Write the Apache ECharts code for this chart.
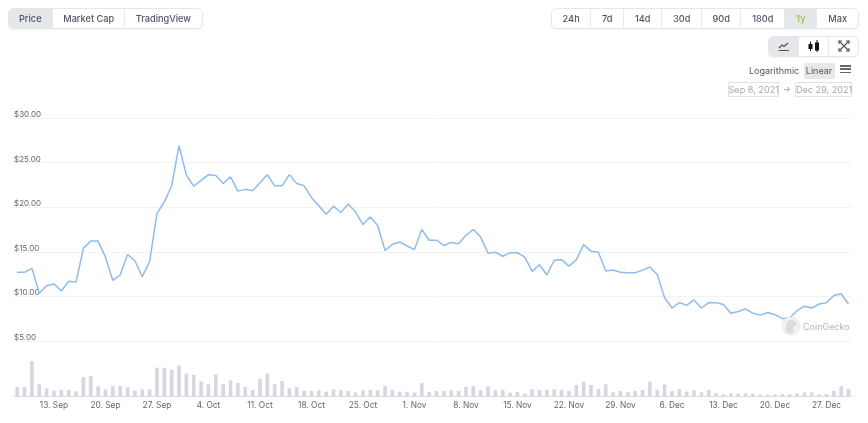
<!DOCTYPE html>
<html><head><meta charset="utf-8">
<script src="https://cdn.jsdelivr.net/npm/echarts@6/dist/echarts.min.js"></script>
<style>
html,body{margin:0;padding:0;background:#fff;width:868px;height:423px;overflow:hidden;font-family:Inter,"Noto Sans",sans-serif}
#chart{position:absolute;left:0;top:0;width:868px;height:423px}
.grp{position:absolute;display:flex;box-sizing:border-box;border:1px solid #e5e7eb;border-radius:5px;overflow:hidden;background:#fff;height:21px;box-shadow:0 1px 1px rgba(0,0,0,.04)}
.grp div{box-sizing:border-box;border-right:1px solid #e8e9ec;text-align:center;font-size:9.2px;line-height:19px;color:#4b5563;font-weight:500}
.grp div:last-child{border-right:none}
.on{background:#e5e7eb}
.abs{position:absolute}
.date{position:absolute;box-sizing:border-box;border:1px solid #e2e2e2;height:15px;font-size:9.1px;line-height:13px;color:#a8a8a8;text-align:center;white-space:nowrap}
.ham{position:absolute;left:839.5px;width:11.5px;height:1.5px;background:#666}
</style></head><body>
<div id="chart"></div>
<div class="grp" style="left:7.5px;top:8px;width:195px">
<div class="on" style="width:45px">Price</div><div style="width:73px">Market Cap</div><div style="width:77px">TradingView</div></div>
<div class="grp" style="left:551px;top:8px;width:308px">
<div style="width:39.5px">24h</div><div style="width:33px">7d</div><div style="width:38.5px">14d</div><div style="width:40px">30d</div><div style="width:39.5px">90d</div><div style="width:44.5px">180d</div><div class="on" style="width:32px;color:#8dc63f">1y</div><div style="width:41px">Max</div></div>
<div class="grp" style="left:767.5px;top:35.5px;width:91.5px">
<div class="on" style="width:31.5px;position:relative"><svg width="14" height="12" style="position:absolute;left:8.5px;top:3px"><path d="M2 8 L5 5 L7 6.5 L11 3" stroke="#4b5563" stroke-width="1.3" fill="none"/><path d="M1.5 10.5 H12" stroke="#4b5563" stroke-width="1.2"/></svg></div>
<div style="width:30px;position:relative"><svg width="14" height="14" style="position:absolute;left:8px;top:2px"><path d="M3.5 2.5 V12 M10 1 V13" stroke="#111" stroke-width="1"/><rect x="1.5" y="5" width="4" height="5" fill="#111"/><rect x="8" y="3.5" width="4" height="8" fill="#111"/></svg></div>
<div style="width:30px;position:relative"><svg width="12" height="12" style="position:absolute;left:9px;top:3.5px"><path d="M1 1 L11 11 M11 1 L1 11" stroke="#4b5563" stroke-width="1.1"/><path d="M1 4 V1 H4 M8 1 H11 V4 M11 8 V11 H8 M4 11 H1 V8" stroke="#4b5563" stroke-width="1.1" fill="none"/></svg></div></div>
<div class="abs" style="left:749px;top:64px;font-size:9px;line-height:14px;color:#4b5563">Logarithmic</div>
<div class="abs" style="left:803.5px;top:62.5px;width:31px;height:16px;background:#e8e8e8;border-radius:2px;font-size:9px;line-height:16px;text-align:center;color:#4b5563">Linear</div>
<div class="ham" style="top:65px"></div><div class="ham" style="top:68.3px"></div><div class="ham" style="top:71.6px"></div>
<div class="date" style="left:727.5px;top:82px;width:51.5px">Sep 8, 2021</div>
<div class="abs" style="left:783px;top:82px;font-size:8px;line-height:15px;color:#999">→</div>
<div class="date" style="left:795px;top:82px;width:57px">Dec 29, 2021</div>
<svg class="abs" width="20" height="20" style="left:781px;top:316px"><circle cx="10" cy="10" r="9" fill="#f1f1f1" stroke="#e9e9e9"/><path d="M5 16 C4 8 6 4 10 4 C13 4 15 6 16 8 C15 10 13 10 12 10 C12 13 13 15 12 17 C9 18 7 18 5 16Z" fill="#dcdcdc"/></svg>
<div class="abs" style="left:803px;top:318.5px;font-size:9px;line-height:15px;color:#b4b4b4">CoinGecko</div>
<script>
const startDate = [2021, 8, 8];
const priceValues = [12.7,12.7,13.15,10.35,11.2,11.4,10.6,11.7,11.6,15.4,16.2,16.2,14.4,11.8,12.4,14.7,14.0,12.2,13.9,19.3,20.6,22.4,26.9,23.6,22.35,23.0,23.65,23.55,22.65,23.4,21.8,22.0,21.85,22.75,23.65,22.4,22.4,23.65,22.65,22.4,21.1,20.15,19.2,20.1,19.4,20.35,19.45,18.05,18.9,17.95,15.15,15.85,16.1,15.65,15.25,17.5,16.3,16.3,15.7,16.05,15.9,16.85,17.5,16.65,14.85,14.95,14.5,14.9,14.9,14.4,12.8,13.55,12.4,14.05,14.1,13.4,14.1,15.8,15.05,14.95,12.85,12.95,12.7,12.65,12.65,12.95,13.3,12.45,9.85,8.7,9.3,9.0,9.6,8.7,9.3,9.3,9.1,8.1,8.3,8.6,8.1,7.9,8.2,7.95,7.5,7.6,8.4,8.9,8.7,9.15,9.3,10.1,10.3,9.15];
const volumeValues = [28,28,106,36,24,17,19,19,15,58,61,30,21,31,31,27,17,21,21,86,86,80,92,68,64,45,36,66,36,48,40,28,19,52,68,36,46,24,28,17,16,18,14,21,19,16,12,18,19,18,32,19,14,13,11,40,13,16,16,18,16,28,31,19,30,18,19,11,13,8,21,19,19,21,19,16,34,44,34,22,36,12,16,12,16,19,44,19,36,16,22,14,18,12,19,10,6,9,8,9,8,5,5,6,7,6,9,12,12,6,7,16,30,22];
const monthNames = ['Jan','Feb','Mar','Apr','May','Jun','Jul','Aug','Sep','Oct','Nov','Dec'];
const categories = priceValues.map((_, i) => {
  const d = new Date(Date.UTC(startDate[0], startDate[1], startDate[2] + i));
  return d.getUTCDate() + '. ' + monthNames[d.getUTCMonth()];
});
const tickEvery = (i) => (i - 5) % 7 === 0 && i >= 5;
const gridL = 13.5, gridR = 868 - 852.2;
const chart = echarts.init(document.getElementById('chart'), null, {renderer:'canvas'});
chart.setOption({
  animation:false,
  grid:[
    {left:gridL,right:gridR,top:118,height:223,containLabel:false},
    {left:gridL,right:gridR,top:356.3,height:40,containLabel:false}
  ],
  xAxis:[
    {type:'category',gridIndex:0,data:categories,axisLine:{show:false},axisTick:{show:false},axisLabel:{show:false},splitLine:{show:false}},
    {type:'category',gridIndex:1,data:categories,
     axisLine:{lineStyle:{color:'#d8deee',width:1}},
     axisTick:{alignWithLabel:true,length:5,interval:(i)=>tickEvery(i),lineStyle:{color:'#d8deee'}},
     axisLabel:{interval:(i)=>tickEvery(i),color:'#666',fontSize:8.3,fontFamily:'Inter',margin:5.5,hideOverlap:false},
     splitLine:{show:false}}
  ],
  yAxis:[
    {type:'value',gridIndex:0,min:5,max:30,interval:5,
     axisLine:{show:false},axisTick:{show:false},
     splitLine:{lineStyle:{color:'#f3f3f3',width:1}},
     axisLabel:{inside:true,margin:0.5,color:'#666',fontSize:8,fontFamily:'Inter',verticalAlign:'bottom',padding:[0,0,-0.5,0],
       showMinLabel:true,showMaxLabel:true,formatter:(v)=>'$'+v.toFixed(2)}},
    {type:'value',gridIndex:1,min:0,max:120,axisLine:{show:false},axisTick:{show:false},splitLine:{show:false},axisLabel:{show:false}}
  ],
  series:[
    {type:'bar',xAxisIndex:1,yAxisIndex:1,data:volumeValues,barWidth:3.6,itemStyle:{color:'#d5d8de'},silent:true},
    {type:'line',xAxisIndex:0,yAxisIndex:0,data:priceValues,symbol:'none',lineStyle:{color:'#8fbcec',width:1.5},silent:true}
  ]
});
</script>
</body></html>
